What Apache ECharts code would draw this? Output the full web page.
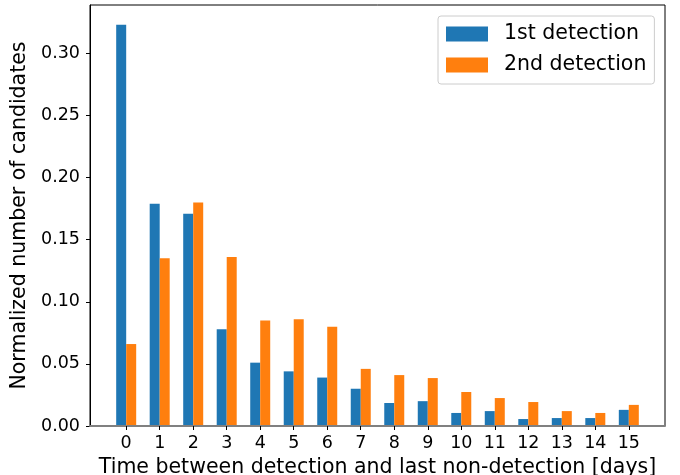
<!DOCTYPE html>
<html>
<head>
<meta charset="utf-8">
<script src="https://cdn.jsdelivr.net/npm/echarts@6/dist/echarts.min.js"></script>
<style>
html,body{margin:0;padding:0;background:#fff;}
#chart{width:680px;height:475px;}
</style>
</head>
<body>
<div id="chart"></div>
<script>
const days = [0,1,2,3,4,5,6,7,8,9,10,11,12,13,14,15];
const firstDetection  = [0.323,0.179,0.171,0.078,0.051,0.044,0.039,0.030,0.0185,0.020,0.0105,0.012,0.0056,0.0064,0.0064,0.013];
const secondDetection = [0.066,0.135,0.180,0.136,0.085,0.086,0.080,0.046,0.041,0.0386,0.0274,0.0225,0.0193,0.012,0.0105,0.017];
const yTicks = [0,0.05,0.10,0.15,0.20,0.25,0.30];
const seriesNames = ['1st detection','2nd detection'];

const FONT = 'DejaVu Sans';
const chart = echarts.init(document.getElementById('chart'), null, {renderer:'canvas'});
chart.setOption({
  animation:false,
  textStyle:{fontFamily:FONT, color:'#000'},
  grid:{left:90, right:15, top:5, bottom:49, outerBoundsMode:'none', containLabel:false,
        show:true, borderColor:'#000', borderWidth:1, backgroundColor:'transparent'},
  legend:{
    data:seriesNames,
    orient:'vertical',
    left:438, top:16,
    itemWidth:42, itemHeight:15,
    itemGap:9,
    padding:[7,8,8,8],
    borderColor:'#cccccc', borderWidth:1, borderRadius:3,
    backgroundColor:'rgba(255,255,255,0.8)',
    icon:'rect',
    textStyle:{fontFamily:FONT, fontSize:20.5, color:'#000', lineHeight:22, padding:[0,0,0,11]}
  },
  xAxis:{
    type:'value', min:-1.08, max:16.08, z:3,
    name:'Time between detection and last non-detection [days]',
    nameLocation:'middle', nameGap:30,
    nameTextStyle:{fontFamily:FONT, fontSize:20.5, color:'#000'},
    axisLine:{show:true, onZero:false, lineStyle:{color:'#808080', width:2}},
    axisTick:{show:true, length:4, customValues:days, lineStyle:{color:'#000', width:1}},
    axisLabel:{show:true, margin:8, customValues:days, fontFamily:FONT, fontSize:17.5, color:'#000', formatter:v=>String(Math.round(v))},
    splitLine:{show:false}
  },
  yAxis:{
    type:'value', min:0, max:0.339,
    name:'Normalized number of candidates',
    nameLocation:'middle', nameGap:53,
    nameTextStyle:{fontFamily:FONT, fontSize:20.5, color:'#000'},
    axisLine:{show:true, onZero:false, lineStyle:{color:'#000', width:1}},
    axisTick:{show:true, length:4, customValues:yTicks, lineStyle:{color:'#000', width:1}},
    axisLabel:{show:true, margin:10, customValues:yTicks, fontFamily:FONT, fontSize:17.5, color:'#000', formatter:v=>v.toFixed(2)},
    splitLine:{show:false}
  },
  series:[
    {name:seriesNames[0], type:'bar', barWidth:10, barGap:'0%', itemStyle:{color:'#1f77b4'},
     data:days.map((d,i)=>[d, firstDetection[i]])},
    {name:seriesNames[1], type:'bar', barWidth:10, barGap:'0%', itemStyle:{color:'#ff7f0e'},
     data:days.map((d,i)=>[d, secondDetection[i]])}
  ]
});
</script>
</body>
</html>
